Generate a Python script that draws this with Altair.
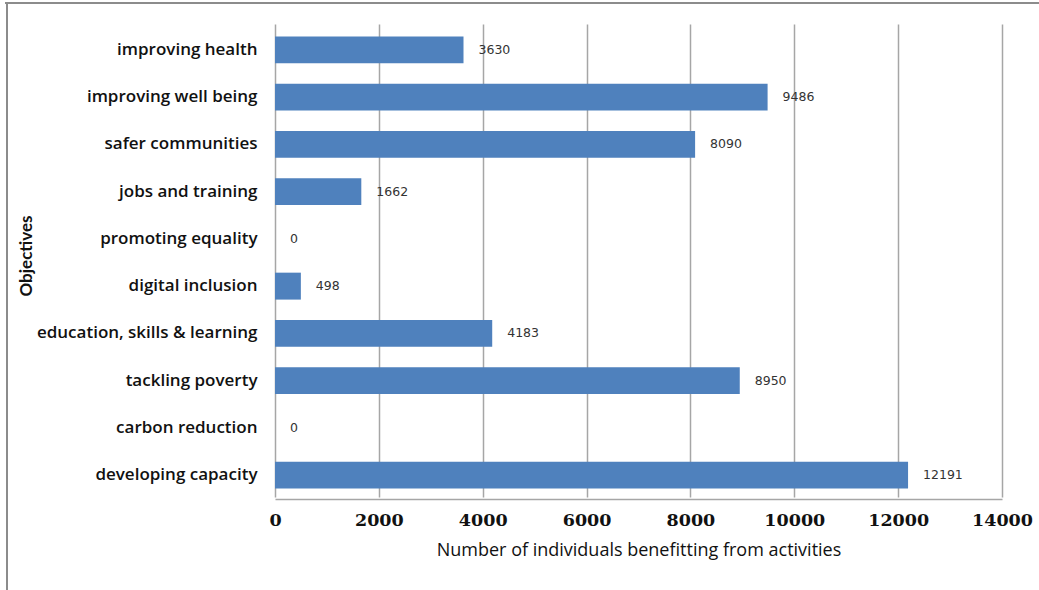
import altair as alt
import pandas as pd

# Objectives and number of individuals benefitting from activities
objectives = [
    "improving health",
    "improving well being",
    "safer communities",
    "jobs and training",
    "promoting equality",
    "digital inclusion",
    "education, skills & learning",
    "tackling  poverty",
    "carbon reduction",
    "developing capacity",
]
individuals = [3630, 9486, 8090, 1662, 0, 498, 4183, 8950, 0, 12191]
x_ticks = [0, 2000, 4000, 6000, 8000, 10000, 12000, 14000]

df = pd.DataFrame({"objective": objectives, "individuals": individuals})

W, H = 727, 475
label_font = "Open Sans"

y_enc = alt.Y(
    "objective:N",
    sort=objectives,
    scale=alt.Scale(paddingInner=0.43, paddingOuter=0.22, range=[2, H]),
    axis=alt.Axis(
        title="Objectives",
        titleFont="Lato",
        titleFontSize=17,
        titleFontWeight="bold",
        titleColor="#111111",
        titlePadding=0,
        titleX=-240,
        titleY=H / 2 - 6,
        labelFont=label_font,
        labelFontSize=17,
        labelFontWeight=600,
        labelColor="#111111",
        labelPadding=18,
        labelLimit=400,
        ticks=False,
        domain=False,
        grid=False,
    ),
)

x_enc = alt.X(
    "individuals:Q",
    scale=alt.Scale(domain=[0, 14000], nice=False),
    axis=alt.Axis(
        values=x_ticks,
        format="d",
        title="Number of individuals benefitting from activities",
        titleFont=label_font,
        titleFontSize=18,
        titleFontWeight="normal",
        titleColor="#111111",
        titlePadding=13,
        labelFont="DejaVu Serif",
        labelFontSize=17.5,
        labelFontWeight="bold",
        labelColor="#111111",
        labelPadding=12,
        labelFlush=False,
        ticks=False,
        domainColor="#a6a6a6",
        domainWidth=1.5,
        grid=True,
        gridColor="#a6a6a6",
        gridWidth=1.5,
    ),
)

bars = alt.Chart(df).mark_bar(color="#4F81BD").encode(x=x_enc, y=y_enc)

labels = alt.Chart(df).mark_text(
    align="left", baseline="middle", dx=15, font="DejaVu Sans", fontSize=12.5, color="#333333"
).encode(
    x="individuals:Q",
    y=alt.Y("objective:N", sort=objectives),
    text="individuals:Q",
)

# Outer frame around the chart
frame_top = alt.Chart(df).mark_rule(color="#8c8c8c", strokeWidth=2).encode(
    x=alt.value(-270), x2=alt.value(W + 40), y=alt.value(-21)
)
frame_left = alt.Chart(df).mark_rule(color="#8c8c8c", strokeWidth=2).encode(
    x=alt.value(-268), y=alt.value(-21), y2=alt.value(H + 95)
)

chart = (
    alt.layer(bars, labels, frame_top, frame_left)
    .properties(
        width=W,
        height=H,
        autosize=alt.AutoSizeParams(type="none"),
        padding={"left": 275, "top": 24, "right": 37, "bottom": 91},
        background="white",
    )
    .configure_view(stroke=None)
)

chart.save("out.html", embed_options={"renderer": "svg", "actions": False})
